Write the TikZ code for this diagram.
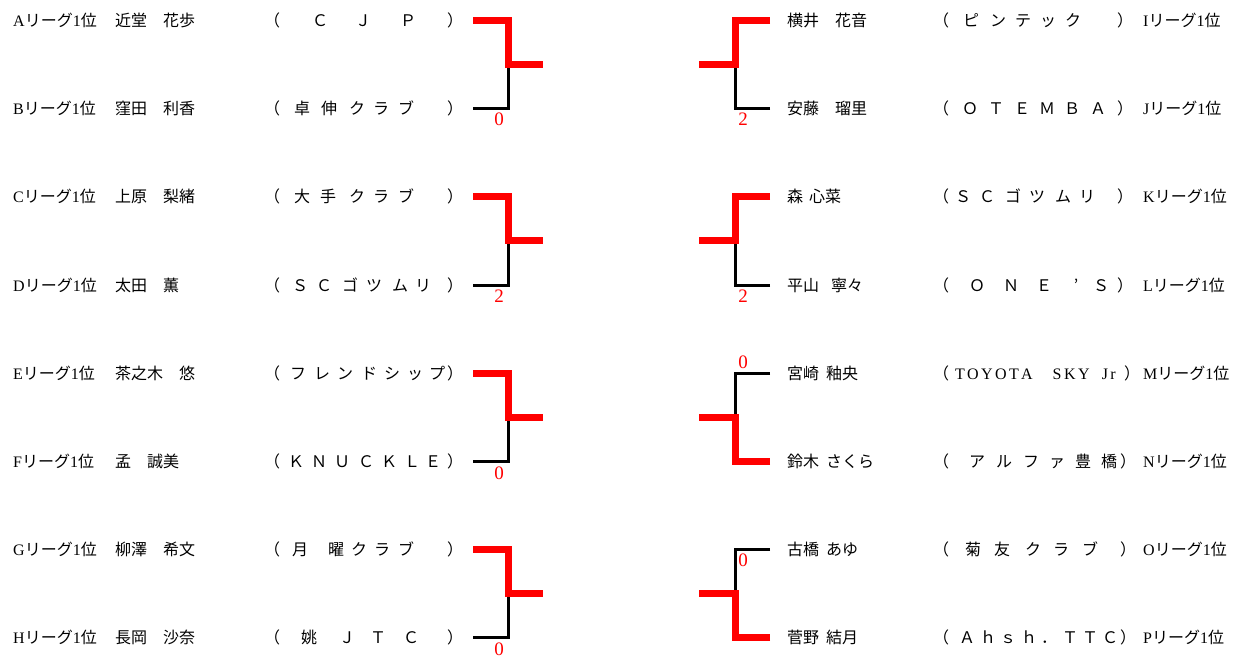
\documentclass[tikz,border=0pt]{standalone}
\usepackage{fontspec}
\setmainfont{Liberation Serif}
\newfontfamily\jp{Noto Sans CJK JP}
\newcommand\lgname[1]{#1{\jp リーグ}1{\jp 位}}
\newcommand\teamchars[3]{\foreach \xx/\ch [count=\ii] in {#3} {\node[tch] (#1\ii) at (\xx,#2) {\ch};}}
\newcommand\teamlatin[3]{\foreach \xx/\ch [count=\ii] in {#3} {\node[tchl] (#1\ii) at (\xx,#2) {\ch};}}
\tikzset{
  lbl/.style={anchor=base west, inner sep=0pt, font=\fontsize{16}{19}\selectfont},
  tch/.style={anchor=base, inner sep=0pt, font=\jp\fontsize{16}{19}\selectfont},
  tchl/.style={anchor=base, inner sep=0pt, font=\fontsize{16}{19}\selectfont},
  win/.style={draw=red, line width=7pt, line join=miter},
  lose/.style={draw=black, line width=3pt, line join=miter},
  score/.style={text=red, font=\fontsize{19}{21}\selectfont, inner sep=0pt},
}
\begin{document}
\begin{tikzpicture}[x=1pt, y=-1pt]
\useasboundingbox (0,0) rectangle (1244,660);
% ---------- left column labels ----------
\node[lbl] (lgA) at (13,26.5) {\lgname{A}};
\node[lbl] (nmA) at (115,26.5) {\jp 近堂　花歩};
\node[lbl] (lgB) at (13,114.7) {\lgname{B}};
\node[lbl] (nmB) at (115,114.7) {\jp 窪田　利香};
\node[lbl] (lgC) at (13,202.9) {\lgname{C}};
\node[lbl] (nmC) at (115,202.9) {\jp 上原　梨緒};
\node[lbl] (lgD) at (13,291.1) {\lgname{D}};
\node[lbl] (nmD) at (115,291.1) {\jp 太田　薫};
\node[lbl] (lgE) at (13,379.3) {\lgname{E}};
\node[lbl] (nmE) at (115,379.3) {\jp 茶之木　悠};
\node[lbl] (lgF) at (13,467.5) {\lgname{F}};
\node[lbl] (nmF) at (115,467.5) {\jp 孟　誠美};
\node[lbl] (lgG) at (13,555.7) {\lgname{G}};
\node[lbl] (nmG) at (115,555.7) {\jp 柳澤　希文};
\node[lbl] (lgH) at (13,643.9) {\lgname{H}};
\node[lbl] (nmH) at (115,643.9) {\jp 長岡　沙奈};
% left teams
\teamchars{tA}{26.5}{272/（,320/Ｃ,363/Ｊ,408/Ｐ,455/）}
\teamchars{tB}{114.7}{272/（,302/卓,329/伸,357/ク,381/ラ,406/ブ,455/）}
\teamchars{tC}{202.9}{272/（,302/大,328/手,357/ク,381/ラ,406/ブ,455/）}
\teamchars{tD}{291.1}{272/（,300/Ｓ,324/Ｃ,350/ゴ,374/ツ,400/ム,423/リ,455/）}
\teamchars{tE}{379.3}{272/（,298/フ,322/レ,345/ン,369/ド,392/シ,415/ッ,437/プ,455/）}
\teamchars{tF}{467.5}{272/（,296/Ｋ,319/Ｎ,342/Ｕ,366/Ｃ,389/Ｋ,412/Ｌ,433/Ｅ,455/）}
\teamchars{tG}{555.7}{272/（,300/月,336/曜,359/ク,382/ラ,406/ブ,455/）}
\teamchars{tH}{643.9}{272/（,309/姚,347/Ｊ,378/Ｔ,411/Ｃ,455/）}
% ---------- right column labels ----------
\node[lbl] (nmI) at (787,26.5) {\jp 横井　花音};
\node[lbl] (lgI) at (1143,26.5) {\lgname{I}};
\node[lbl] (nmJ) at (787,114.7) {\jp 安藤　瑠里};
\node[lbl] (lgJ) at (1143,114.7) {\lgname{J}};
\node[lbl] (nmK) at (787,202.9) {\jp 森\hspace{6pt}心菜};
\node[lbl] (lgK) at (1143,202.9) {\lgname{K}};
\node[lbl] (nmL) at (787,291.1) {\jp 平山\hspace{12pt}寧々};
\node[lbl] (lgL) at (1143,291.1) {\lgname{L}};
\node[lbl] (nmM) at (787,379.3) {\jp 宮崎\hspace{7pt}釉央};
\node[lbl] (lgM) at (1143,379.3) {\lgname{M}};
\node[lbl] (nmN) at (787,467.5) {\jp 鈴木\hspace{7pt}さくら};
\node[lbl] (lgN) at (1143,467.5) {\lgname{N}};
\node[lbl] (nmO) at (787,555.7) {\jp 古橋\hspace{7pt}あゆ};
\node[lbl] (lgO) at (1143,555.7) {\lgname{O}};
\node[lbl] (nmP) at (787,643.9) {\jp 菅野\hspace{7pt}結月};
\node[lbl] (lgP) at (1143,643.9) {\lgname{P}};
% right teams
\teamchars{tI}{26.5}{941/（,971/ピ,998/ン,1023/テ,1048/ッ,1073/ク,1125/）}
\teamchars{tJ}{114.7}{941/（,970/Ｏ,996/Ｔ,1022/Ｅ,1047/Ｍ,1072/Ｂ,1098/Ａ,1125/）}
\teamchars{tK}{202.9}{941/（,963/Ｓ,987/Ｃ,1013/ゴ,1037/ツ,1063/ム,1087/リ,1125/）}
\teamchars{tL}{291.1}{941/（,977/Ｏ,1011/Ｎ,1044/Ｅ,1076/’,1101/Ｓ,1125/）}
\teamchars{tMp}{379.3}{941/（,1132/）}
\teamlatin{tM}{379.3}{960/T,973/O,987/Y,1001/O,1014/T,1027/A,1057/S,1070/K,1084/Y,1105/J,1113/r}
\teamchars{tN}{467.5}{941/（,977/ア,1004/ル,1031/フ,1057/ァ,1083/豊,1109/橋,1128/）}
\teamchars{tO}{555.7}{941/（,973/菊,1002/友,1033/ク,1061/ラ,1090/ブ,1128/）}
\teamchars{tP}{643.9}{941/（,967/Ａ,988/ｈ,1008/ｓ,1029/ｈ,1049/．,1070/Ｔ,1090/Ｔ,1110/Ｃ,1128/）}
% ---------- left brackets ----------
\foreach \k/\yt/\ym/\yb in {1/20.5/64.6/108.7, 2/196.9/241.0/285.1, 3/373.3/417.4/461.5, 4/549.7/593.8/637.9} {
  \coordinate (L\k t) at (473,\yt);
  \coordinate (L\k c) at (508.5,\yt);
  \coordinate (L\k m) at (508.5,\ym);
  \coordinate (L\k o) at (543,\ym);
  \coordinate (L\k d) at (508.5,\yb);
  \coordinate (L\k b) at (473,\yb);
  \draw[lose] (L\k b) -- (L\k d) -- (L\k m);
  \draw[win] (L\k t) -- (L\k c) -- (L\k m) -- (L\k o);
}
% ---------- right brackets ----------
\foreach \k/\yt/\ym/\yb in {1/20.5/64.6/108.7, 2/196.9/241.0/285.1, 3/373.3/417.4/461.5, 4/549.7/593.8/637.9} {
  \coordinate (R\k t) at (770,\yt);
  \coordinate (R\k c) at (735.5,\yt);
  \coordinate (R\k m) at (735.5,\ym);
  \coordinate (R\k o) at (699,\ym);
  \coordinate (R\k d) at (735.5,\yb);
  \coordinate (R\k b) at (770,\yb);
}
\draw[lose] (R1b) -- (R1d) -- (R1m);
\draw[win] (R1t) -- (R1c) -- (R1m) -- (R1o);
\draw[lose] (R2b) -- (R2d) -- (R2m);
\draw[win] (R2t) -- (R2c) -- (R2m) -- (R2o);
\draw[lose] (R3t) -- (R3c) -- (R3m);
\draw[win] (R3b) -- (R3d) -- (R3m) -- (R3o);
\draw[lose] (R4t) -- (R4c) -- (R4m);
\draw[win] (R4b) -- (R4d) -- (R4m) -- (R4o);
% ---------- scores ----------
\node[score] (s1) at (499,119.5) {0};
\node[score] (s2) at (499,296) {2};
\node[score] (s3) at (499,473) {0};
\node[score] (s4) at (499,649) {0};
\node[score] (s5) at (743,119.5) {2};
\node[score] (s6) at (743,296) {2};
\node[score] (s7) at (743,362) {0};
\node[score] (s8) at (743,560) {0};
\end{tikzpicture}
\end{document}
